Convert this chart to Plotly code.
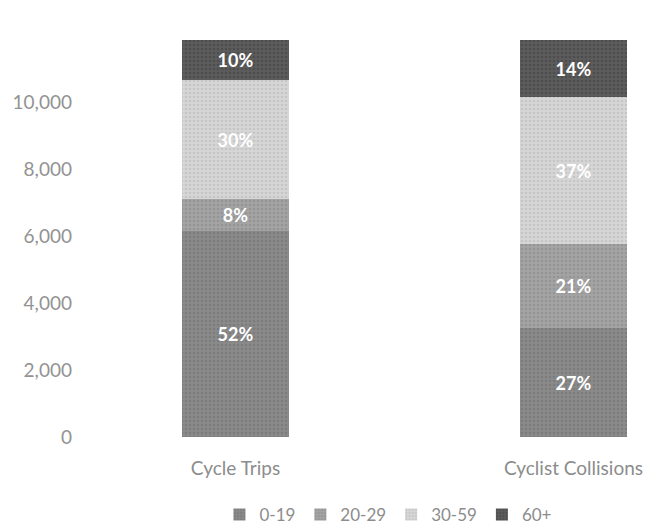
import plotly.graph_objects as go

categories = ["Cycle Trips", "Cyclist Collisions"]
age_groups = ["0-19", "20-29", "30-59", "60+"]
values_0_19 = [6160, 3250]
values_20_29 = [950, 2500]
values_30_59 = [3555, 4400]
values_60_plus = [1185, 1700]
labels_0_19 = ["52%", "27%"]
labels_20_29 = ["8%", "21%"]
labels_30_59 = ["30%", "37%"]
labels_60_plus = ["10%", "14%"]
y_ticks = [0, 2000, 4000, 6000, 8000, 10000]

series = [
    (age_groups[0], values_0_19, labels_0_19, "#8a8a8a", "#6e6e6e"),
    (age_groups[1], values_20_29, labels_20_29, "#a3a3a3", "#858585"),
    (age_groups[2], values_30_59, labels_30_59, "#d6d6d6", "#b4b4b4"),
    (age_groups[3], values_60_plus, labels_60_plus, "#5c5c5c", "#3e3e3e"),
]

fig = go.Figure()
for name, vals, txt, col, fg in series:
    fig.add_trace(go.Bar(
        x=categories, y=vals, name=name, text=txt,
        textposition="inside", insidetextanchor="middle",
        textfont=dict(family="Lato", size=18, color="white", weight="bold"),
        marker=dict(color=col, line=dict(width=0),
                    pattern=dict(shape=".", fgcolor=fg, bgcolor=col, size=4, solidity=0.35)),
        width=0.317,
    ))

# page body has an 8px margin, so the figure is sized to fill the rest of the window
fig.update_layout(
    barmode="stack",
    width=654, height=523,
    margin=dict(l=72, r=0, t=27, b=94, autoexpand=False),
    paper_bgcolor="white", plot_bgcolor="white",
    font=dict(family="Lato", color="#8c8c8c", size=18),
    uniformtext=dict(mode="show", minsize=8),
    xaxis=dict(range=[-0.46, 1.262], showline=False, showgrid=False, ticks="",
               automargin=False, ticklabelstandoff=18,
               tickfont=dict(size=19, color="#8c8c8c")),
    yaxis=dict(range=[0, 12000], tickvals=y_ticks, tickformat=",", showgrid=False,
               showline=False, zeroline=False, ticks="", automargin=False,
               ticklabelstandoff=7,
               tickfont=dict(size=19, color="#939393")),
    legend=dict(orientation="h", x=0.53, xanchor="center", y=-0.194, yanchor="middle",
                font=dict(size=17, color="#8c8c8c"), traceorder="normal",
                itemwidth=30),
    bargap=0,
)

fig.write_html("out.html")
